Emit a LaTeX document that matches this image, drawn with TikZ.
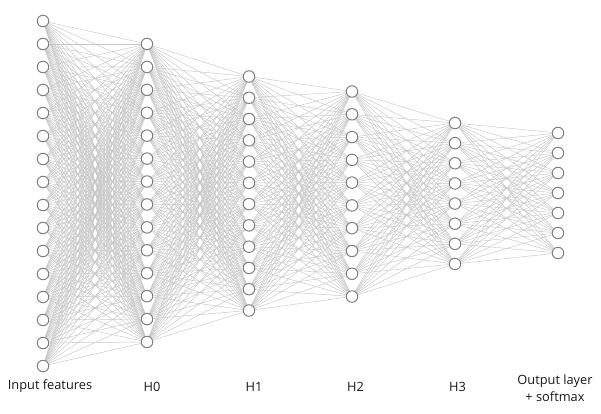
\documentclass[tikz,border=0pt]{standalone}
\usepackage{fontspec}
\setmainfont{Open Sans}
\usetikzlibrary{backgrounds}
\begin{document}
\begin{tikzpicture}[x=1pt,y=-1pt,
  neuron/.style={circle,draw=black!50,fill=white,line width=1pt,minimum size=11.5pt,inner sep=0pt},
  edge/.style={draw=black!22,line width=0.45pt},
  lbl/.style={font=\fontsize{12.8}{17}\selectfont,text=black!90,align=center}]
\useasboundingbox (0,0) rectangle (601,413);
\foreach \l/\x/\n/\ys/\dy in {0/43/16/21/23, 1/147/14/44/22.92, 2/249/12/76.5/21.27, 3/352/10/91.5/22.78, 4/455/8/123/20.14, 5/558/7/133/20}{
  \foreach \i in {1,...,\n}{
    \node[neuron] (n\l-\i) at (\x,{\ys+(\i-1)*\dy}) {};
  }
}
\begin{scope}[on background layer]
\fill[white] (0,0) rectangle (601,413);
\foreach \a/\na/\b/\nb in {0/16/1/14, 1/14/2/12, 2/12/3/10, 3/10/4/8, 4/8/5/7}{
  \foreach \i in {1,...,\na}{
    \foreach \j in {1,...,\nb}{
      \draw[edge] (n\a-\i) -- (n\b-\j);
    }
  }
}
\end{scope}
\node[lbl] (l0) at (50,385.7) {Input features};
\node[lbl] (l1) at (152,387.3) {H0};
\node[lbl] (l2) at (254,387.3) {H1};
\node[lbl] (l3) at (355.5,387.3) {H2};
\node[lbl] (l4) at (457.5,387.3) {H3};
\node[lbl] (l5) at (555,388) {Output layer\\+ softmax};
\end{tikzpicture}
\end{document}
